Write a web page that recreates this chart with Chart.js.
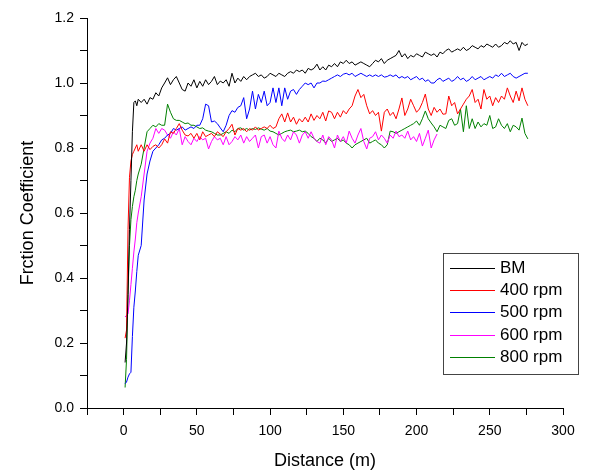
<!DOCTYPE html>
<html>
<head>
<meta charset="utf-8">
<script src="https://cdn.jsdelivr.net/npm/chart.js@4/dist/chart.umd.min.js"></script>
<style>
  html, body { margin: 0; padding: 0; background: #fff; }
  #wrap { width: 600px; height: 474px; position: relative; }
</style>
</head>
<body>
<div id="wrap"><canvas id="chart" width="600" height="474"></canvas></div>
<script>
// distance (m): 1..10 step 1, then 12..276 step 2
const distance = [];
for (let d = 1; d <= 10; d += 1) distance.push(d);
for (let d = 12; d <= 276; d += 2) distance.push(d);

const seriesNames = ["BM", "400 rpm", "500 rpm", "600 rpm", "800 rpm"];
const seriesColors = ["#000000", "#ff0000", "#0000ff", "#ff00ff", "#008000"];

const bm = [
  0.14, 0.20, 0.35, 0.55, 0.70, 0.85, 0.94, 0.945, 0.93, 0.95,
  0.94, 0.95, 0.935, 0.955, 0.95, 0.97, 0.96, 0.985, 1.0, 1.016,
  0.995, 1.01, 1.02, 1.0, 0.98, 0.975, 1.0, 0.99, 1.01, 0.985,
  1.005, 0.99, 1.01, 0.995, 1.005, 1.02, 0.995, 1.006, 1.0, 1.01,
  0.99, 1.03, 1.0, 1.015, 1.005, 1.02, 1.01, 1.02, 1.025, 1.03,
  1.02, 1.025, 1.015, 1.02, 1.03, 1.025, 1.02, 1.03, 1.025, 1.02,
  1.03, 1.035, 1.03, 1.04, 1.035, 1.04, 1.03, 1.045, 1.04, 1.045,
  1.058, 1.04, 1.05, 1.04, 1.055, 1.05, 1.06, 1.05, 1.065, 1.06,
  1.07, 1.06, 1.065, 1.055, 1.06, 1.065, 1.06, 1.055, 1.05, 1.06,
  1.07, 1.065, 1.075, 1.06, 1.07, 1.075, 1.08, 1.085, 1.10, 1.08,
  1.09, 1.075, 1.085, 1.08, 1.09, 1.085, 1.08, 1.095, 1.09, 1.085,
  1.09, 1.08, 1.095, 1.09, 1.1, 1.105, 1.095, 1.1, 1.105, 1.1,
  1.11, 1.1, 1.105, 1.115, 1.11, 1.105, 1.115, 1.11, 1.12, 1.115,
  1.11, 1.12, 1.11, 1.115, 1.125, 1.12, 1.13, 1.12, 1.125, 1.10,
  1.125, 1.115, 1.12
];

const rpm400 = [
  0.215, 0.24, 0.55, 0.71, 0.76, 0.78, 0.79, 0.80, 0.81, 0.79,
  0.81, 0.79, 0.81, 0.795, 0.805, 0.81, 0.80, 0.81, 0.828, 0.815,
  0.85, 0.845, 0.86, 0.875, 0.855, 0.84, 0.837, 0.845, 0.83, 0.845,
  0.825, 0.85, 0.835, 0.84, 0.845, 0.835, 0.85, 0.843, 0.835, 0.85,
  0.86, 0.873, 0.84, 0.86, 0.855, 0.86, 0.85, 0.86, 0.855, 0.865,
  0.855, 0.86, 0.865, 0.86, 0.87, 0.86, 0.865, 0.89, 0.905, 0.88,
  0.908, 0.88, 0.895, 0.873, 0.89, 0.88, 0.895, 0.88, 0.905, 0.885,
  0.90, 0.89, 0.91, 0.883, 0.914, 0.91, 0.89, 0.91, 0.895, 0.915,
  0.905, 0.92, 0.93, 0.96, 0.98, 0.955, 0.965, 0.93, 0.905, 0.915,
  0.90, 0.91, 0.852, 0.91, 0.92, 0.90, 0.91, 0.89, 0.92, 0.954,
  0.90, 0.92, 0.95, 0.93, 0.91, 0.92, 0.94, 0.966, 0.92, 0.90,
  0.925, 0.91, 0.92, 0.904, 0.905, 0.96, 0.93, 0.94, 0.905, 0.92,
  0.935, 0.95, 0.96, 0.98, 0.94, 0.95, 0.92, 0.98, 0.95, 0.96,
  0.93, 0.955, 0.94, 0.96, 0.95, 0.985, 0.96, 0.94, 0.975, 0.945,
  0.985, 0.95, 0.93
];

const rpm500 = [
  0.075, 0.08, 0.095, 0.105, 0.11, 0.22, 0.31, 0.36, 0.42, 0.47,
  0.50, 0.64, 0.72, 0.76, 0.79, 0.80, 0.81, 0.825, 0.83, 0.84,
  0.845, 0.86, 0.855, 0.86, 0.865, 0.855, 0.86, 0.865, 0.86, 0.87,
  0.87, 0.89, 0.935, 0.93, 0.88, 0.883, 0.875, 0.862, 0.85, 0.87,
  0.90, 0.915, 0.91, 0.925, 0.93, 0.955, 0.89, 0.92, 0.975, 0.92,
  0.965, 0.94, 0.975, 0.93, 0.94, 0.985, 0.94, 0.985, 0.93, 0.985,
  0.95, 0.975, 0.98, 0.965, 0.98, 0.99, 1.0, 0.995, 1.0, 0.985,
  1.0, 1.0, 1.006, 1.005, 1.01, 1.015, 1.02, 1.025, 1.02, 1.027,
  1.03, 1.025, 1.03, 1.02, 1.025, 1.03, 1.025, 1.02, 1.025, 1.02,
  1.025, 1.02, 1.025, 1.018, 1.02, 1.025, 1.02, 1.025, 1.015, 1.02,
  1.015, 1.02, 1.01, 1.015, 1.02, 1.01, 1.015, 1.005, 1.01, 1.0,
  1.0, 1.01, 1.015, 1.005, 1.01, 1.015, 1.005, 1.01, 1.02, 1.01,
  1.015, 1.005, 1.01, 1.02, 1.01, 1.015, 1.02, 1.01, 1.015, 1.02,
  1.015, 1.025, 1.02, 1.03, 1.02, 1.025, 1.03, 1.02, 1.015, 1.02,
  1.025, 1.03, 1.03
];

// 600 rpm stops at about 214 m
const rpm600 = [
  0.28, 0.285, 0.29, 0.33, 0.38, 0.43, 0.48, 0.52, 0.57, 0.60,
  0.65, 0.72, 0.79, 0.815, 0.83, 0.86, 0.845, 0.86, 0.855, 0.84,
  0.83, 0.85, 0.84, 0.86, 0.81, 0.835, 0.82, 0.81, 0.83, 0.82,
  0.835, 0.825, 0.83, 0.797, 0.82, 0.835, 0.825, 0.83, 0.81, 0.835,
  0.81, 0.82, 0.835, 0.825, 0.84, 0.815, 0.835, 0.82, 0.83, 0.84,
  0.80, 0.835, 0.84, 0.815, 0.835, 0.81, 0.80, 0.852, 0.83, 0.82,
  0.84, 0.825, 0.85, 0.84, 0.815, 0.84, 0.85, 0.83, 0.85, 0.83,
  0.82, 0.815, 0.84, 0.81, 0.835, 0.825, 0.80, 0.84, 0.82, 0.835,
  0.815, 0.852, 0.83, 0.815, 0.84, 0.86, 0.82, 0.797, 0.83, 0.835,
  0.85, 0.825, 0.84, 0.83, 0.815, 0.84, 0.83, 0.852, 0.835, 0.84,
  0.83, 0.852, 0.825, 0.835, 0.82, 0.845, 0.806, 0.83, 0.855, 0.80,
  0.825, 0.843
];

const rpm800 = [
  0.063, 0.15, 0.35, 0.50, 0.58, 0.62, 0.65, 0.67, 0.70, 0.72,
  0.75, 0.80, 0.85, 0.86, 0.87, 0.865, 0.875, 0.87, 0.87, 0.935,
  0.91, 0.89, 0.885, 0.885, 0.88, 0.875, 0.877, 0.87, 0.87, 0.865,
  0.86, 0.862, 0.855, 0.852, 0.85, 0.845, 0.84, 0.84, 0.845, 0.85,
  0.845, 0.855, 0.85, 0.86, 0.862, 0.855, 0.86, 0.855, 0.86, 0.857,
  0.862, 0.858, 0.855, 0.86, 0.852, 0.85, 0.845, 0.84, 0.845, 0.85,
  0.853, 0.855, 0.85, 0.852, 0.855, 0.85, 0.852, 0.845, 0.835, 0.83,
  0.82, 0.83, 0.825, 0.815, 0.83, 0.82, 0.825, 0.83, 0.82, 0.825,
  0.815, 0.81, 0.80, 0.81, 0.815, 0.82, 0.825, 0.83, 0.815, 0.82,
  0.825, 0.815, 0.81, 0.80, 0.81, 0.852, 0.85, 0.845, 0.85, 0.855,
  0.86, 0.865, 0.87, 0.875, 0.883, 0.87, 0.89, 0.914, 0.89, 0.877,
  0.865, 0.85, 0.87, 0.865, 0.86, 0.885, 0.89, 0.87, 0.875, 0.92,
  0.85, 0.93, 0.86, 0.89, 0.86, 0.88, 0.865, 0.875, 0.87, 0.90,
  0.86, 0.865, 0.89, 0.87, 0.86, 0.875, 0.85, 0.87, 0.865, 0.855,
  0.892, 0.845, 0.828
];

const xTicksShown = [0, 50, 100, 150, 200, 250, 300];
const yTicksShown = ["0.0", "0.2", "0.4", "0.6", "0.8", "1.0", "1.2"];

const allSeries = [bm, rpm400, rpm500, rpm600, rpm800];

function toPoints(values) {
  return values.map((v, i) => ({ x: distance[i], y: v }));
}

const datasets = allSeries.map((values, i) => ({
  label: seriesNames[i],
  data: toPoints(values),
  borderColor: seriesColors[i],
  backgroundColor: seriesColors[i],
  borderWidth: 1,
  pointRadius: 0,
  tension: 0,
  fill: false
}));

const FONT = "'Liberation Sans', Arial, sans-serif";

// legend box drawn inside the plot, lower right
const boxLegend = {
  id: "boxLegend",
  afterDraw(chart) {
    const ctx = chart.ctx;
    ctx.save();
    ctx.strokeStyle = "#444";
    ctx.lineWidth = 1;
    ctx.strokeRect(443.5, 253.5, 135, 121);
    ctx.font = "17px " + FONT;
    ctx.textBaseline = "middle";
    ctx.textAlign = "left";
    seriesNames.forEach((name, i) => {
      const y = Math.round(268 + i * 22.2) + 0.5;
      ctx.strokeStyle = seriesColors[i];
      ctx.lineWidth = 1;
      ctx.beginPath();
      ctx.moveTo(450, y);
      ctx.lineTo(495, y);
      ctx.stroke();
      ctx.fillStyle = "#000";
      ctx.fillText(name, 500, y);
    });
    ctx.restore();
  }
};

Chart.defaults.color = "#000";
Chart.defaults.font.family = FONT;

new Chart(document.getElementById("chart"), {
  type: "line",
  data: { datasets },
  options: {
    animation: false,
    responsive: false,
    layout: { padding: { left: 0, right: 37, top: 18, bottom: 0 } },
    plugins: { legend: { display: false }, tooltip: { enabled: false } },
    scales: {
      x: {
        type: "linear",
        min: -25,
        max: 300,
        border: { color: "#000", width: 1 },
        grid: { drawOnChartArea: false, drawTicks: true, tickLength: 7, color: "#000" },
        ticks: {
          stepSize: 25,
          autoSkip: false,
          maxRotation: 0,
          padding: 8,
          font: { size: 14 },
          callback: (v) => (xTicksShown.includes(v) ? String(v) : "")
        },
        title: { display: true, text: "Distance (m)", font: { size: 18 }, padding: { top: 4, bottom: 2 } },
        afterFit: (scale) => { scale.height = 66; }
      },
      y: {
        min: 0,
        max: 1.2,
        border: { color: "#000", width: 1 },
        grid: { drawOnChartArea: false, drawTicks: true, tickLength: 7, color: "#000" },
        ticks: {
          stepSize: 0.1,
          autoSkip: false,
          padding: 6,
          font: { size: 14 },
          callback: (v) => {
            const s = v.toFixed(1);
            return yTicksShown.includes(s) ? s : "";
          }
        },
        title: { display: true, text: "Frction Coefficient", font: { size: 18 }, padding: { top: 17, bottom: 0 } },
        afterFit: (scale) => { scale.width = 87; }
      }
    }
  },
  plugins: [boxLegend]
});
</script>
</body>
</html>
